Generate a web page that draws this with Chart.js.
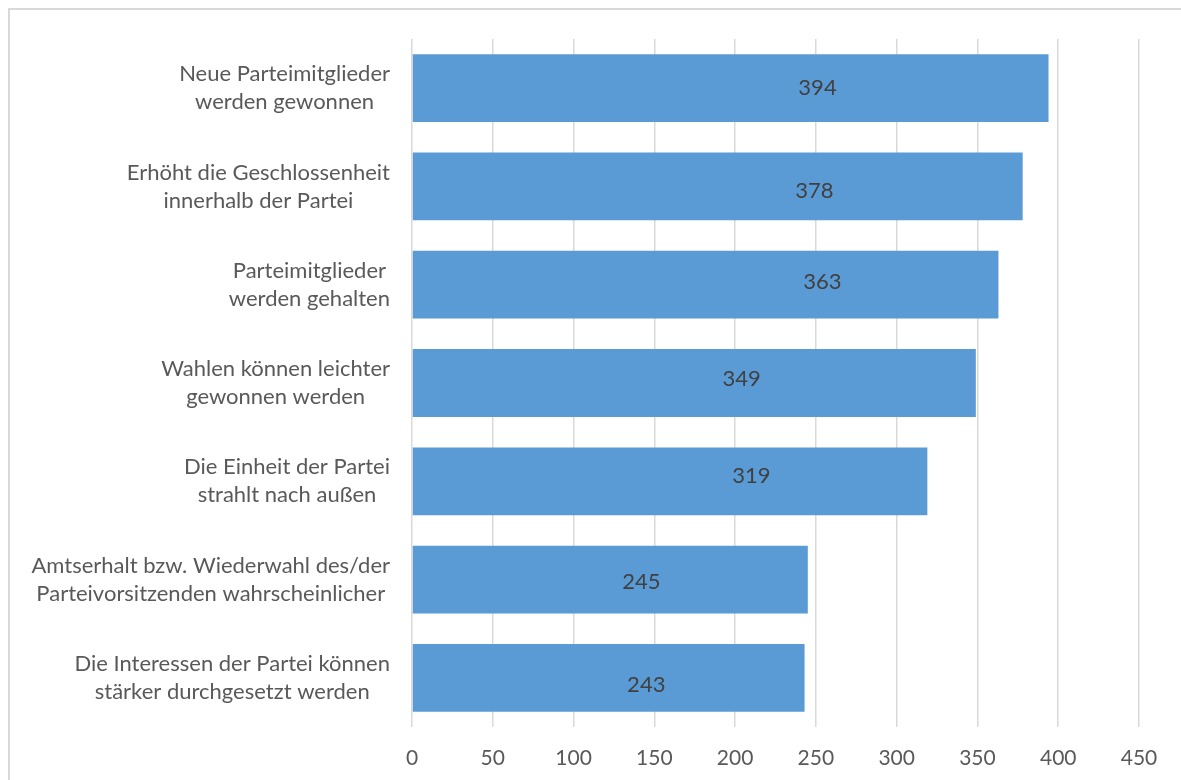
<!DOCTYPE html>
<html>
<head>
<meta charset="utf-8">
<script src="https://cdn.jsdelivr.net/npm/chart.js@4.4.0/dist/chart.umd.min.js"></script>
<style>
  html, body { margin: 0; padding: 0; background: #fff; overflow: hidden; }
  #wrap { position: relative; width: 1181px; height: 780px; }
  #frame { position: absolute; left: 8px; top: 8px; width: 1300px; height: 900px;
           border-left: 2px solid #d9d9d9; border-top: 2px solid #d9d9d9; }
  #chart { position: absolute; left: 0; top: 0; }
</style>
</head>
<body>
<div id="wrap">
  <div id="frame"></div>
  <canvas id="chart" width="1181" height="780"></canvas>
</div>
<script>
// ..... data .....
const categories = [
  ['Neue Parteimitglieder', 'werden gewonnen'],
  ['Erhöht die Geschlossenheit', 'innerhalb der Partei'],
  ['Parteimitglieder', 'werden gehalten'],
  ['Wahlen können leichter', 'gewonnen werden'],
  ['Die Einheit der Partei', 'strahlt nach außen'],
  ['Amtserhalt bzw. Wiederwahl des/der', 'Parteivorsitzenden wahrscheinlicher'],
  ['Die Interessen der Partei können', 'stärker durchgesetzt werden']
];
const values = [394, 378, 363, 349, 319, 245, 243];
// where the value labels sit (value units / category units)
const labelAt = [251, 249, 254, 204, 210, 142, 145];
const labelShift = [0, 0.05, -0.03, -0.04, -0.05, 0.02, 0.07];
const xTicks = [0, 50, 100, 150, 200, 250, 300, 350, 400, 450];

const FONT = 'Lato';
const CAT_SIZE = 22;
const TICK_SIZE = 21;

// y labels: block right aligned, lines centred on each other
const catLabels = {
  id: 'catLabels',
  afterDraw(chart) {
    const ctx = chart.ctx;
    const y = chart.scales.y;
    const x = chart.scales.x;
    ctx.save();
    ctx.font = CAT_SIZE + 'px ' + FONT;
    ctx.fillStyle = '#595959';
    ctx.textAlign = 'center';
    ctx.textBaseline = 'middle';
    const rightEdge = x.left - 22;
    const lh = 28;
    categories.forEach((lines, i) => {
      const w = Math.max(...lines.map(l => ctx.measureText(l).width));
      const cx = rightEdge - w / 2;
      const cy = y.getPixelForValue(i);
      lines.forEach((l, k) => {
        ctx.fillText(l, cx, cy + (k - (lines.length - 1) / 2) * lh);
      });
    });
    // value labels
    ctx.fillStyle = '#404040';
    values.forEach((v, i) => {
      ctx.fillText(String(v), x.getPixelForValue(labelAt[i]), y.getPixelForValue(i + labelShift[i]));
    });
    ctx.restore();
  }
};

new Chart(document.getElementById('chart'), {
  type: 'bar',
  data: {
    labels: categories,
    datasets: [{
      data: values,
      backgroundColor: '#5b9bd5',
      borderWidth: 0,
      barPercentage: 0.69,
      categoryPercentage: 1
    }]
  },
  options: {
    indexAxis: 'y',
    responsive: false,
    animation: false,
    layout: { padding: { top: 39, right: 42, left: 0, bottom: 0 } },
    plugins: { legend: { display: false }, tooltip: { enabled: false } },
    scales: {
      x: {
        min: 0,
        max: 450,
        afterBuildTicks: (s) => { s.ticks = xTicks.map(v => ({ value: v })); },
        afterFit: (s) => { s.height = 53; },
        grid: { color: '#d9d9d9', lineWidth: 1.5, drawTicks: false },
        border: { display: false },
        ticks: { padding: 19, color: '#595959', font: { family: FONT, size: TICK_SIZE } }
      },
      y: {
        afterFit: (s) => { s.width = 412; },
        grid: { display: false },
        border: { display: false },
        ticks: { display: false }
      }
    }
  },
  plugins: [catLabels]
});
</script>
</body>
</html>
